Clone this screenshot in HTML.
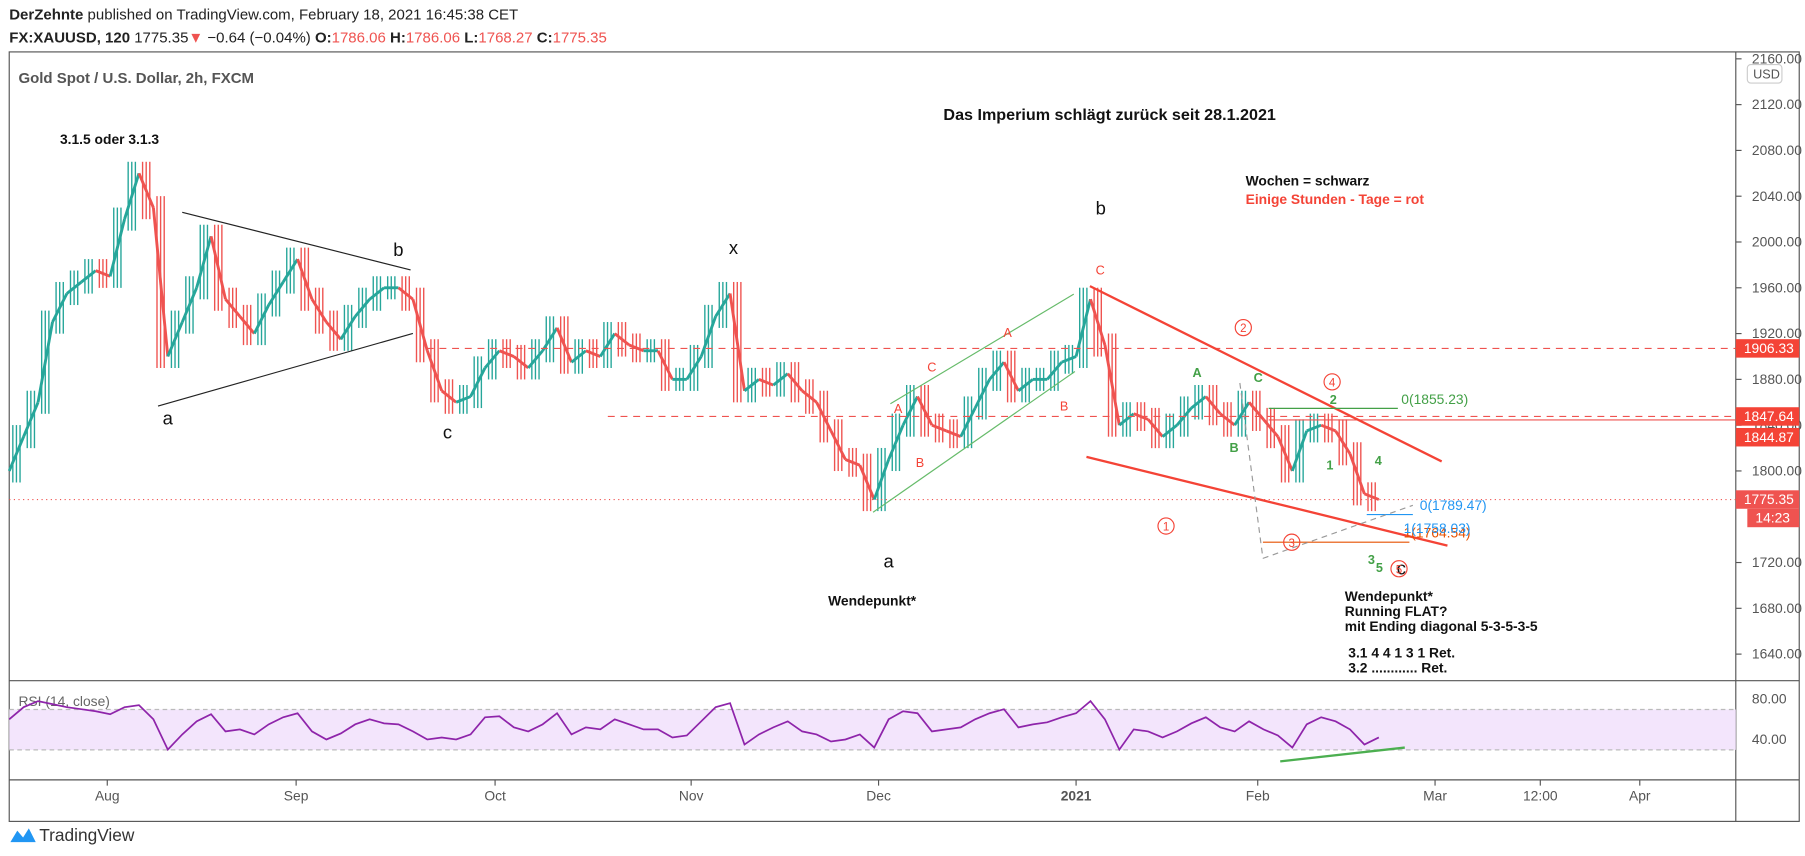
<!DOCTYPE html>
<html><head><meta charset="utf-8">
<style>
html,body{margin:0;padding:0;background:#fff;overflow:hidden;width:1805px;height:856px}
#wrap{position:absolute;left:0;top:0;width:1565px;height:742px;transform:scale(1.15335,1.15364);transform-origin:0 0;font-family:"Liberation Sans",sans-serif}
.hdr{position:absolute;left:8px;font-size:13px;color:#222;white-space:nowrap}
.r{color:#ef5350}
svg text{font-family:"Liberation Sans",sans-serif}
</style></head><body>
<div id="wrap">
<div class="hdr" style="top:5px"><b>DerZehnte</b> published on TradingView.com, February 18, 2021 16:45:38 CET</div>
<div class="hdr" style="top:25px"><b>FX:XAUUSD, 120</b> 1775.35<span class="r">▼</span> −0.64 (−0.04%) <b>O:</b><span class="r">1786.06</span> <b>H:</b><span class="r">1786.06</span> <b>L:</b><span class="r">1768.27</span> <b>C:</b><span class="r">1775.35</span></div>
<svg id="chart" width="1565" height="742" style="position:absolute;left:0;top:0">
<rect x="8" y="45" width="1552" height="667" fill="none" stroke="#555" stroke-width="1"/>
<line x1="1505" y1="45" x2="1505" y2="712" stroke="#555"/>
<line x1="8" y1="590" x2="1560" y2="590" stroke="#555"/>
<line x1="8" y1="676" x2="1560" y2="676" stroke="#555"/>
<rect x="8" y="615" width="1497" height="35" fill="#f3e5fc"/>
<line x1="8" y1="615" x2="1505" y2="615" stroke="#bbb" stroke-dasharray="4,3"/>
<line x1="8" y1="650" x2="1505" y2="650" stroke="#bbb" stroke-dasharray="4,3"/>
<text x="16" y="72" font-size="13" font-weight="bold" fill="#555">Gold Spot / U.S. Dollar, 2h, FXCM</text>
<text x="16" y="612" font-size="12" fill="#666">RSI (14, close)</text>
<g id="yaxis"></g><g id="xaxis"></g><g id="candles"></g><g id="rsi"></g>
<g font-weight="bold">
<line x1="158" y1="184" x2="356" y2="234" stroke="#222"/>
<line x1="137" y1="352" x2="358" y2="289" stroke="#222"/>
<line x1="370" y1="302" x2="1505" y2="302" stroke="#ef5350" stroke-dasharray="6,5"/>
<line x1="527" y1="361" x2="1505" y2="361" stroke="#ef5350" stroke-dasharray="6,5"/>
<line x1="1100" y1="364" x2="1505" y2="364" stroke="#ef5350"/>
<line x1="8" y1="433" x2="1505" y2="433" stroke="#ef5350" stroke-dasharray="1,3"/>
<line x1="757" y1="444" x2="932" y2="322" stroke="#66bb6a"/>
<line x1="772" y1="350" x2="931" y2="255" stroke="#66bb6a"/>
<line x1="945" y1="248" x2="1250" y2="400" stroke="#f44336" stroke-width="2"/>
<line x1="942" y1="396" x2="1255" y2="473" stroke="#f44336" stroke-width="2"/>
<line x1="1100" y1="354" x2="1212" y2="354" stroke="#43a047"/>
<line x1="1095" y1="470" x2="1222" y2="470" stroke="#e65100"/>
<line x1="1185" y1="446" x2="1225" y2="446" stroke="#2196f3"/>
<line x1="1075" y1="332" x2="1095" y2="484" stroke="#999" stroke-dasharray="5,4"/>
<line x1="1095" y1="484" x2="1225" y2="438" stroke="#999" stroke-dasharray="5,4"/>
<line x1="1110" y1="660" x2="1218" y2="648" stroke="#4caf50" stroke-width="2"/>
<text x="1215" y="350" font-size="12" font-weight="normal" fill="#43a047">0(1855.23)</text>
<text x="1231" y="442" font-size="12" font-weight="normal" fill="#2196f3">0(1789.47)</text>
<text x="1217" y="466" font-size="12" font-weight="normal" fill="#e65100">1(1764.54)</text>
<text x="1217" y="462" font-size="12" font-weight="normal" fill="#2196f3">1(1758.03)</text>
<g font-size="12" fill="#111">
<text x="52" y="125">3.1.5 oder 3.1.3</text>
<text x="818" y="104" font-size="14">Das Imperium schlägt zurück seit 28.1.2021</text>
<text x="1080" y="161">Wochen = schwarz</text>
<text x="1080" y="177" fill="#f44336">Einige Stunden - Tage = rot</text>
<text x="718" y="525">Wendepunkt*</text>
<text x="1166" y="521">Wendepunkt*</text>
<text x="1166" y="534">Running FLAT?</text>
<text x="1166" y="547">mit Ending diagonal 5-3-5-3-5</text>
<text x="1169" y="570">3.1 4 4 1 3 1 Ret.</text>
<text x="1169" y="583">3.2 ............ Ret.</text>
</g>
<g font-size="16" font-weight="normal" fill="#111">
<text x="141" y="368">a</text><text x="341" y="222">b</text><text x="384" y="380">c</text>
<text x="632" y="220">x</text><text x="766" y="492">a</text><text x="950" y="186">b</text><text x="1211" y="498">c</text>
</g>
<g font-size="11" font-weight="normal" fill="#f44336">
<text x="775" y="358">A</text><text x="794" y="405">B</text><text x="804" y="322">C</text>
<text x="870" y="292">A</text><text x="919" y="356">B</text><text x="950" y="238">C</text>
</g>
<g font-size="11" fill="#43a047">
<text x="1034" y="327">A</text><text x="1066" y="392">B</text><text x="1087" y="331">C</text>
<text x="1153" y="350">2</text><text x="1150" y="407">1</text><text x="1192" y="403">4</text>
<text x="1186" y="489">3</text><text x="1193" y="496">5</text>
</g>
<g fill="none" stroke="#f44336" stroke-width="1">
<circle cx="1078" cy="284" r="7"/><circle cx="1155" cy="331" r="7"/><circle cx="1011" cy="456" r="7"/>
<circle cx="1120" cy="470" r="7"/><circle cx="1213" cy="493" r="7"/>
</g>
<g font-size="10" font-weight="normal" fill="#f44336" text-anchor="middle">
<text x="1078" y="288">2</text><text x="1155" y="335">4</text><text x="1011" y="460">1</text>
<text x="1120" y="474">3</text><text x="1213" y="497">5</text>
</g>
</g>
<g font-size="12" fill="#fff">
<rect x="1505" y="294" width="55" height="16" fill="#f44336"/><text x="1512" y="306">1906.33</text>
<rect x="1505" y="353" width="55" height="16" fill="#f44336"/><text x="1512" y="365">1847.64</text>
<rect x="1505" y="371" width="55" height="16" fill="#f44336"/><text x="1512" y="383">1844.87</text>
<rect x="1505" y="425" width="55" height="16" fill="#ef5350"/><text x="1512" y="437">1775.35</text>
<rect x="1515" y="441" width="45" height="16" fill="#ef5350"/><text x="1522" y="453">14:23</text>
</g>
<rect x="1515" y="56" width="30" height="16" rx="3" fill="#fff" stroke="#ccc"/>
<text x="1520" y="68" font-size="11" fill="#555">USD</text>
<g>
<path d="M9 730 l6 -10 l5 6 l5 -8 l6 12 z" fill="#2196f3"/>
<text x="34" y="729" font-size="15" fill="#333">TradingView</text>
</g>
</svg>
</div>
<script>
const priceCloses=[1800,1830,1860,1930,1955,1965,1975,1970,2020,2060,2030,1900,1930,1960,2005,1950,1935,1920,1945,1965,1985,1950,1930,1915,1935,1950,1960,1960,1950,1905,1870,1860,1865,1890,1905,1900,1890,1905,1925,1895,1905,1900,1920,1910,1905,1905,1880,1880,1900,1935,1955,1870,1880,1875,1885,1870,1860,1835,1810,1805,1775,1810,1840,1865,1840,1835,1830,1855,1880,1895,1870,1880,1880,1895,1900,1950,1910,1840,1850,1845,1830,1840,1855,1865,1850,1840,1860,1845,1830,1800,1835,1840,1835,1815,1780,1775];
const rsiValues=[60,72,78,75,72,70,68,65,72,74,60,30,45,58,65,48,50,45,55,62,66,48,40,46,55,60,56,55,48,40,42,40,45,62,63,52,48,55,66,45,52,50,60,55,50,50,42,44,58,72,76,35,45,52,58,48,45,38,40,45,32,60,68,66,48,50,52,60,66,70,52,55,57,62,66,78,60,30,50,48,42,48,56,62,52,48,58,50,44,32,55,62,58,50,35,42];
const priceTicks=[2160,2120,2080,2040,2000,1960,1920,1880,1840,1800,1760,1720,1680,1640];
const rsiTicks=[80,40];
const timeLabels=["Aug","Sep","Oct","Nov","Dec","2021","Feb","Mar","12:00","Apr"];
const timeBarIdx=[6.8,19.9,33.7,47.3,60.3,74,86.6,98.9,106.2,113.1];
const NS="http://www.w3.org/2000/svg";
const yP=p=>51+(2160-p)*0.9923;
const yR=r=>606+(80-r)*0.875;
const xI=i=>8+i*12.5;
function mk(tag,attrs,parent){const e=document.createElementNS(NS,tag);for(const k in attrs)e.setAttribute(k,attrs[k]);parent.appendChild(e);return e;}
const gy=document.getElementById('yaxis');
priceTicks.forEach(p=>{if(p===1760)return;const t=mk('text',{x:1519,y:yP(p)+4,'font-size':12,fill:'#555'},gy);t.textContent=p.toFixed(2);


mk('line',{x1:1505,x2:1510,y1:yP(p),y2:yP(p),stroke:'#555'},gy);});
rsiTicks.forEach(r=>{const t=mk('text',{x:1519,y:yR(r)+4,'font-size':12,fill:'#555'},gy);t.textContent=r.toFixed(2);

});
const gx=document.getElementById('xaxis');
timeLabels.forEach((l,k)=>{const x=xI(timeBarIdx[k]);mk('line',{x1:x,x2:x,y1:676,y2:681,stroke:'#555'},gx);
const t=mk('text',{x:x,y:694,'font-size':12,fill:'#555','text-anchor':'middle','font-weight':l==='2021'?'bold':'normal'},gx);t.textContent=l;

});
const gc=document.getElementById('candles');
for(let i=1;i<priceCloses.length;i++){const o=priceCloses[i-1],c=priceCloses[i];const col=c>=o?'#26a69a':'#ef5350';
const x0=xI(i-1),x1=xI(i);
for(const f of [0.25,0.5,0.75]){
const wick=mk('line',{x1:x0+(x1-x0)*f,x2:x0+(x1-x0)*f,y1:yP(Math.max(o,c))-10,y2:yP(Math.min(o,c))+10,stroke:col,'stroke-width':1.2},gc);

}
const seg=mk('line',{x1:x0,y1:yP(o),x2:x1,y2:yP(c),stroke:col,'stroke-width':2.5},gc);

}
const gr=document.getElementById('rsi');
const pl=mk('polyline',{points:rsiValues.map((r,i)=>xI(i)+','+yR(r)).join(' '),fill:'none',stroke:'#8e24aa','stroke-width':1.5},gr);


</script>
</body></html>
